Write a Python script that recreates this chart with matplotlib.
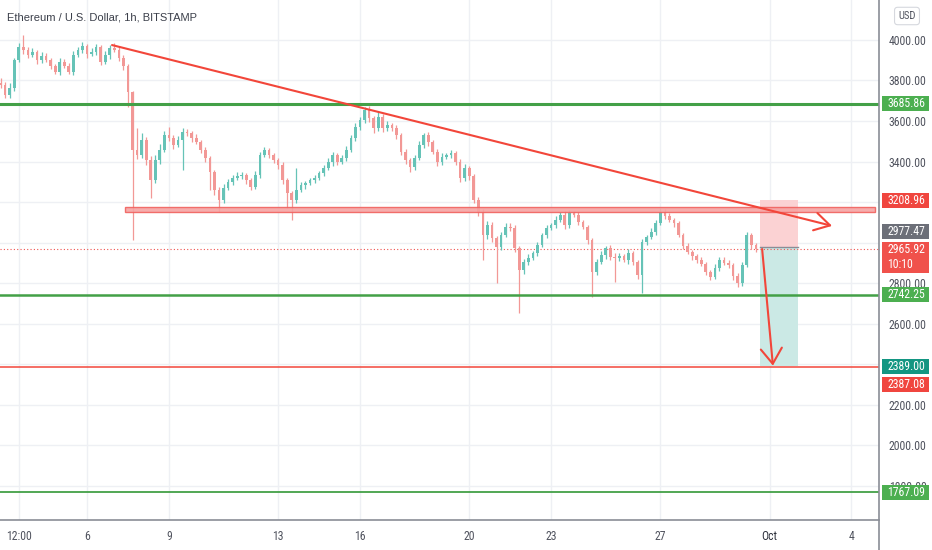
import numpy as np
import pandas as pd
import matplotlib
matplotlib.use("Agg")
import matplotlib.pyplot as plt
import matplotlib.dates as mdates
from matplotlib.patches import Rectangle
from matplotlib.lines import Line2D
from matplotlib.textpath import TextPath
from matplotlib import font_manager as fm

# 4h candles (close prices, open = previous close)
first_open = 3790
closes = [3778, 3728, 3763, 3901, 3965, 3951, 3926, 3941, 3901, 3921,
          3901, 3872, 3842, 3891, 3872, 3842, 3926, 3951, 3970, 3931,
          3941, 3965, 3891, 3926, 3960, 3951, 3911, 3872, 3743, 3457,
          3432, 3506, 3407, 3309, 3407, 3457, 3531, 3516, 3482, 3506,
          3546, 3541, 3516, 3496, 3457, 3417, 3348, 3259, 3210, 3269,
          3299, 3319, 3328, 3333, 3309, 3274, 3333, 3432, 3457, 3432,
          3407, 3383, 3309, 3244, 3210, 3259, 3284, 3294, 3309, 3319,
          3343, 3368, 3398, 3432, 3398, 3417, 3457, 3516, 3570, 3605,
          3654, 3615, 3565, 3620, 3565, 3580, 3565, 3531, 3447, 3407,
          3373, 3417, 3482, 3531, 3496, 3447, 3398, 3422, 3432, 3442,
          3398, 3319, 3368, 3328, 3210, 3151, 3037, 3086, 3022, 2978,
          3037, 3077, 3072, 2973, 2864, 2904, 2924, 2948, 2988, 3037,
          3072, 3086, 3111, 3136, 3086, 3146, 3136, 3101, 3077, 3012,
          2854, 2904, 2938, 2973, 2928, 2924, 2933, 2914, 2948, 2904,
          2840, 3003, 3027, 3052, 3096, 3151, 3131, 3111, 3096, 3037,
          2983, 2953, 2933, 2914, 2894, 2854, 2830, 2874, 2914, 2899,
          2889, 2835, 2800, 2889, 3037, 2988, 2966]
wick_up = [20, 15, 25, 12, 18, 60, 15, 20, 12, 18,
           15, 12, 10, 20, 15, 12, 18, 15, 22, 12,
           18, 15, 12, 20, 15, 25, 12, 15, 10, 5,
           110, 35, 15, 20, 25, 30, 20, 40, 15, 20,
           19, 15, 12, 18, 10, 15, 12, 10, 15, 20,
           15, 12, 18, 15, 12, 10, 20, 15, 15, 12,
           10, 12, 15, 10, 12, 109, 15, 12, 10, 15,
           12, 15, 20, 15, 12, 15, 18, 15, 20, 15,
           15, 20, 12, 25, 15, 18, 12, 15, 12, 15,
           12, 15, 20, 10, 15, 12, 15, 18, 12, 15,
           12, 15, 20, 12, 10, 15, 12, 20, 15, 12,
           15, 18, 19, 15, 12, 15, 18, 12, 15, 12,
           15, 12, 18, 15, 20, 15, 12, 15, 12, 10,
           12, 15, 20, 12, 15, 18, 15, 12, 18, 12,
           10, 15, 12, 18, 15, 19, 12, 15, 12, 10,
           12, 15, 10, 12, 15, 10, 12, 18, 15, 12,
           15, 10, 12, 15, 15, 12, 10]
wick_dn = [15, 14, 12, 15, 12, 18, 15, 12, 18, 15,
           12, 15, 10, 15, 12, 10, 15, 12, 15, 18,
           12, 15, 15, 12, 18, 12, 15, 18, 74, 445,
           20, 15, 25, 89, 15, 20, 12, 15, 18, 12,
           148, 15, 18, 12, 15, 20, 89, 25, 59, 15,
           12, 15, 10, 15, 18, 15, 12, 15, 12, 15,
           15, 18, 20, 74, 99, 15, 12, 18, 12, 15,
           12, 15, 12, 18, 15, 12, 15, 12, 15, 12,
           15, 18, 24, 15, 20, 12, 15, 18, 15, 20,
           25, 15, 12, 15, 18, 12, 20, 15, 12, 15,
           15, 20, 15, 18, 15, 20, 123, 18, 20, 178,
           15, 12, 15, 20, 212, 18, 15, 12, 15, 12,
           15, 12, 15, 12, 18, 15, 12, 15, 12, 18,
           123, 15, 12, 18, 15, 119, 15, 12, 20, 15,
           20, 89, 15, 12, 15, 12, 15, 12, 18, 12,
           15, 12, 18, 15, 12, 15, 15, 12, 15, 12,
           15, 18, 20, 15, 12, 18, 12]
start_time = "2021-09-02 20:00"

green_levels = [3685.86, 2742.25, 1767.09]
red_level = 2387.08
zone_prices = [3151, 3175]
zone_times = ["2021-09-07 09:30", "2021-10-04 20:40"]
trend_times = ["2021-09-06 22:00", "2021-10-03 07:00"]
trend_prices = [3975, 3082]
pos_times = ["2021-09-30 15:40", "2021-10-02 01:00"]
pos_entry, pos_stop, pos_target = 2977.47, 3208.96, 2389.00
arrow_times = ["2021-09-30 17:30", "2021-10-01 03:00"]
arrow_prices = [2968, 2392]
last_price = 2965.92
countdown = "10:10"

tick_dates = ["2021-09-03 12:00", "2021-09-06 00:00", "2021-09-09 00:00", "2021-09-13 00:00",
              "2021-09-16 00:00", "2021-09-20 00:00", "2021-09-23 00:00", "2021-09-27 00:00",
              "2021-10-01 00:00", "2021-10-04 00:00"]
tick_labels = ["12:00", "6", "9", "13", "16", "20", "23", "27", "Oct", "4"]
price_ticks = np.arange(1800, 4001, 200)
hidden_ticks = [3200, 3000, 2400]   # sit under the coloured tags


def narrow_font():
    # look for a narrow / condensed face, else plain Liberation Sans
    tries = [("Liberation Sans Narrow", "normal"), ("Roboto Condensed", "normal"),
             ("Noto Sans", "condensed"), ("DejaVu Sans", "condensed"),
             ("Open Sans", "condensed")]
    for fam, stretch in tries:
        try:
            path = fm.findfont(fm.FontProperties(family=fam, stretch=stretch),
                               fallback_to_default=False)
        except ValueError:
            continue
        if "narrow" in path.lower() or "condensed" in path.lower():
            return fm.FontProperties(fname=path)
    return fm.FontProperties(family="Liberation Sans")


fp = narrow_font()
# size so that "4000.00" is about 37 px wide
w10 = TextPath((0, 0), "4000.00", size=10, prop=fp).get_extents().width
fs_axis = min(8.5, 10 * (37 * 72 / 100) / w10)
fp.set_size(fs_axis)

UP = "#66c3b7"
DOWN = "#f29896"
GREEN = "#43a047"
RED = "#f2463a"
GRID = "#eef0f4"
TXT = "#50535e"


def dnum(strings):
    return mdates.date2num(pd.to_datetime(strings, format="%Y-%m-%d %H:%M"))


W, H = 932, 550
fig = plt.figure(figsize=(W / 100, H / 100), dpi=100)
fig.patch.set_facecolor("white")
ax_w_px, ax_h_px = 879, 520
ax = fig.add_axes([0, (H - ax_h_px) / H, ax_w_px / W, ax_h_px / H])

ymin, ymax = 1629.7, 4197.5
ax.set_ylim(ymin, ymax)
xlim = dnum(["2021-09-02 19:30", "2021-10-05 00:15"])
ax.set_xlim(*xlim)
ppx = (ymax - ymin) / ax_h_px

for s in ax.spines.values():
    s.set_visible(False)

# grid
for d in dnum(tick_dates):
    ax.axvline(d, color=GRID, lw=1, zorder=0)
for p in price_ticks:
    ax.axhline(p, color=GRID, lw=1, zorder=0)

# candles
t = mdates.date2num(pd.date_range(start_time, periods=len(closes), freq="4h"))
c = np.array(closes, float)
o = np.array([first_open] + closes[:-1], float)
hi = np.maximum(o, c) + np.array(wick_up)
lo = np.minimum(o, c) - np.array(wick_dn)
cols = np.where(c >= o, UP, DOWN)
ax.vlines(t, lo, hi, colors=cols, lw=0.9, zorder=2)
body = np.maximum(np.abs(c - o), 3)
ax.bar(t, body, bottom=np.minimum(o, c), width=0.1, color=cols, lw=0, zorder=2)

# levels
for lv, lw in zip(green_levels, [2.2, 1.8, 1.3]):
    ax.axhline(lv, color=GREEN, lw=lw, zorder=3)
ax.axhline(red_level, color=RED, lw=1.1, zorder=3)
ax.axhline(last_price, color="#ef5350", lw=0.8, ls=(0, (1, 2)), zorder=1.5)

# position tool
pt = dnum(pos_times)
ax.add_patch(Rectangle((pt[0], pos_entry), pt[1] - pt[0], pos_stop - pos_entry,
                       facecolor="#fbd2d3", edgecolor="none", zorder=1))
ax.add_patch(Rectangle((pt[0], pos_target), pt[1] - pt[0], pos_entry - pos_target,
                       facecolor="#cbe9e5", edgecolor="none", zorder=1))
ax.plot(pt, [pos_entry, pos_entry], color="#8a8d96", lw=1, zorder=1.6)

# resistance zone
zt = dnum(zone_times)
ax.add_patch(Rectangle((zt[0], zone_prices[0]), zt[1] - zt[0], zone_prices[1] - zone_prices[0],
                       facecolor="#f6a4a3", edgecolor="#f0625f", lw=1, alpha=0.9, zorder=3))

# trend line and arrows
tt = dnum(trend_times)
ax.annotate("", xy=(tt[1], trend_prices[1]), xytext=(tt[0], trend_prices[0]),
            arrowprops=dict(arrowstyle="->,head_length=0.55,head_width=0.32", color=RED,
                            lw=1.5, shrinkA=0, shrinkB=0, mutation_scale=20), zorder=4)
at = dnum(arrow_times)
ax.annotate("", xy=(at[1], arrow_prices[1]), xytext=(at[0], arrow_prices[0]),
            arrowprops=dict(arrowstyle="->,head_length=0.55,head_width=0.38", color=RED,
                            lw=1.5, shrinkA=0, shrinkB=0, mutation_scale=20), zorder=4)

# axes ticks
ax.xaxis.tick_bottom()
ax.set_xticks(dnum(tick_dates))
ax.set_xticklabels(tick_labels)
ax.yaxis.tick_right()
ax.set_yticks(price_ticks)
ax.set_yticklabels(["" if p in hidden_ticks else f"{p:.2f}" for p in price_ticks])
ax.tick_params(axis="x", length=0, pad=7, labelcolor=TXT)
ax.tick_params(axis="y", length=0, pad=7, labelcolor=TXT)
for lab in ax.get_xticklabels() + ax.get_yticklabels():
    lab.set_fontproperties(fp)
oct_lab = ax.get_xticklabels()[tick_labels.index("Oct")]
oct_lab.set_color("#2a2e39")
oct_lab.set_fontweight("bold")

fig.add_artist(Line2D([ax_w_px / W, ax_w_px / W], [0, 1], color="#8a8d96", lw=1.2))
fig.add_artist(Line2D([0, ax_w_px / W], [(H - ax_h_px) / H] * 2, color="#8a8d96", lw=1.2))

# price tags on the right scale
yx = ax.get_yaxis_transform()
tag_x0, tag_w, text_x = 882 / ax_w_px, 47 / ax_w_px, 887 / ax_w_px


def tag(value, lines, fc, dy_px=0, h_px=15):
    yc = value + dy_px * ppx
    ax.add_patch(Rectangle((tag_x0, yc - h_px / 2 * ppx), tag_w, h_px * ppx, transform=yx,
                           facecolor=fc, edgecolor="none", clip_on=False, zorder=10))
    n = len(lines)
    for k, s in enumerate(lines):
        yy = yc + ((n - 1) / 2 - k) * 15 * ppx
        ax.text(text_x, yy, s, transform=yx, color="white", fontproperties=fp,
                va="center", ha="left", clip_on=False, zorder=11)


tag(green_levels[0], ["3685.86"], "#4caf50")
tag(pos_stop, [f"{pos_stop:.2f}"], "#f0463f")
tag(pos_entry, [f"{pos_entry:.2f}"], "#6c6f78", dy_px=16)
tag(last_price, [f"{last_price:.2f}", countdown], "#f0514b", dy_px=-8, h_px=31)
tag(green_levels[1], ["2742.25"], "#4caf50")
tag(pos_target, [f"{pos_target:.2f}"], "#139682")
tag(red_level, [f"{red_level:.2f}"], "#f0463f", dy_px=-17.5)
tag(green_levels[2], ["1767.09"], "#4caf50")

usd_fp = fp.copy()
usd_fp.set_size(fs_axis * 0.9)
fig.text(907 / W, 1 - 16 / H, "USD", ha="center", va="center", color=TXT,
         fontproperties=usd_fp,
         bbox=dict(boxstyle="round,pad=0.35,rounding_size=0.3", fc="white", ec="#d6d8de", lw=0.8))
fig.text(7 / W, 1 - 18 / H, "Ethereum / U.S. Dollar, 1h, BITSTAMP", ha="left", va="center",
         fontsize=8, color="#3c404b", family=["Liberation Sans", "DejaVu Sans"])

fig.savefig("out.png", dpi=100, facecolor="white")
